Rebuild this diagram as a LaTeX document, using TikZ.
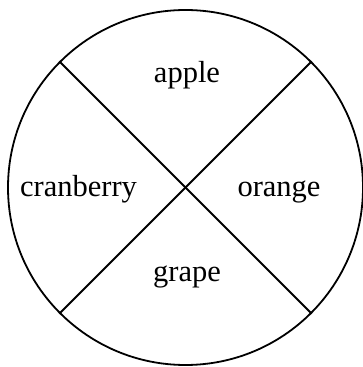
\documentclass[tikz,border=0pt]{standalone}
\usepackage{fontspec}
\setmainfont{Liberation Serif}
\begin{document}
\begin{tikzpicture}[x=1pt,y=1pt,
  rim/.style={line width=1.8pt},
  lab/.style={anchor=base,inner sep=0pt,font=\fontsize{30.5}{36}\selectfont}]
\useasboundingbox (0,0) rectangle (363,367);
\coordinate (c) at (185.5,179.5);
\node[circle,draw,rim,minimum size=355pt,inner sep=0pt] (circ) at (c) {};
\draw[rim] (circ.135) -- (circ.-45);
\draw[rim] (circ.45) -- (circ.-135);
\node[lab] (apple) at (187,284) {apple};
\node[lab] (cran) at (78.5,170) {cranberry};
\node[lab] (orange) at (279,170) {orange};
\node[lab] (grape) at (187,85) {grape};
\end{tikzpicture}
\end{document}
